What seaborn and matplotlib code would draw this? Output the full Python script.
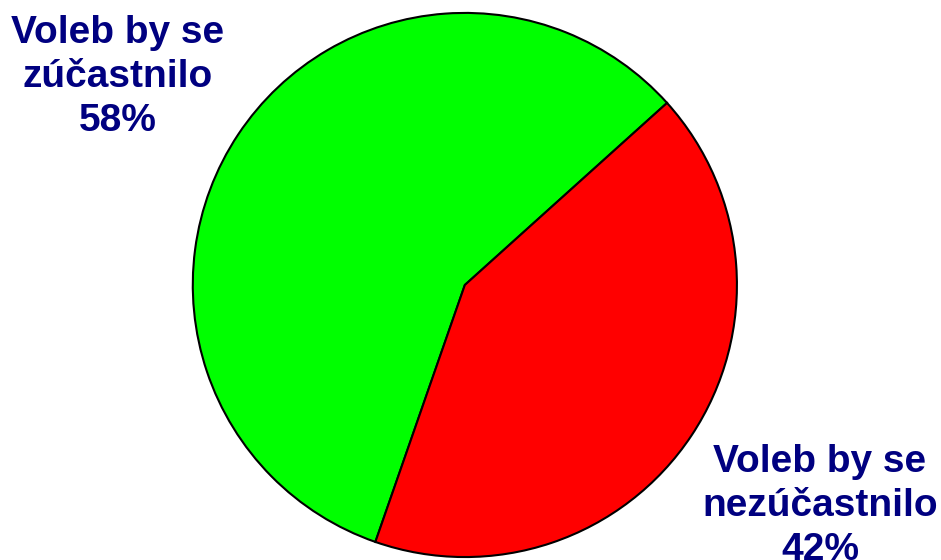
import matplotlib.pyplot as plt
import seaborn as sns

labels = ['Voleb by se\nzúčastnilo\n58%', 'Voleb by se\nnezúčastnilo\n42%']
shares = [58, 42]
colors = ['#00ff00', '#ff0000']

sns.set_theme(style='white')
plt.rcParams['font.family'] = ['Liberation Sans', 'DejaVu Sans']

fig = plt.figure(figsize=(9.41, 5.6), dpi=100)
ax = fig.add_axes([0.204, 0.0036, 0.580, 0.975])

ax.pie(shares, colors=colors, startangle=42, counterclock=True,
       wedgeprops=dict(edgecolor='black', linewidth=1.5))
ax.set_xlim(-1.003, 1.003)
ax.set_ylim(-1.003, 1.003)
ax.set_aspect('equal')

# labels sit outside the pie in the corners
fig.text(118 / 941, 1 - 77 / 560, labels[0], ha='center', va='center',
         fontsize=28, fontweight='bold', color='#000080', linespacing=1.3)
fig.text(820 / 941, 1 - 506 / 560, labels[1], ha='center', va='center',
         fontsize=28, fontweight='bold', color='#000080', linespacing=1.3)

fig.savefig('out.png', dpi=100)
